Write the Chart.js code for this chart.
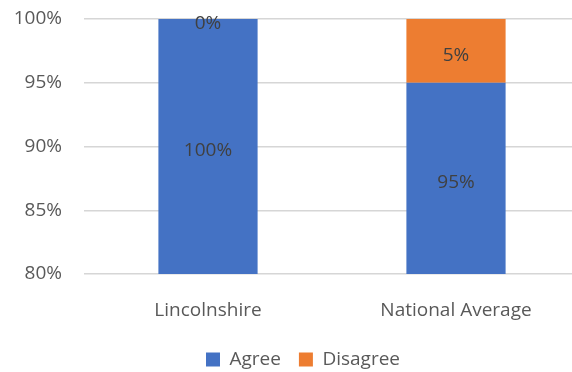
<!DOCTYPE html>
<html>
<head>
<meta charset="utf-8">
<script src="https://cdn.jsdelivr.net/npm/chart.js@4"></script>
<style>
  html, body { margin: 0; padding: 0; background: #fff; overflow: hidden; }
  #wrap { width: 580px; height: 372px; }
</style>
</head>
<body>
<div id="wrap"><canvas id="survey"></canvas></div>
<script>
const regions = ["Lincolnshire", "National Average"];
const agree = [100, 95];
const disagree = [0, 5];
const yTicks = [80, 85, 90, 95, 100];

const fontFamily = "'Open Sans', sans-serif";

// write each segment's value in the middle of the part that is visible
const barLabels = {
  id: "barLabels",
  afterDatasetsDraw(chart) {
    const ctx = chart.ctx;
    const area = chart.chartArea;
    ctx.save();
    ctx.font = "19px " + fontFamily;
    ctx.fillStyle = "#404040";
    ctx.textAlign = "center";
    ctx.textBaseline = "middle";
    chart.data.datasets.forEach((ds, i) => {
      chart.getDatasetMeta(i).data.forEach((bar, j) => {
        let top = Math.max(Math.min(bar.y, bar.base), area.top);
        let bottom = Math.min(Math.max(bar.y, bar.base), area.bottom);
        ctx.fillText(ds.data[j] + "%", bar.x, (top + bottom) / 2 + 4.5);
      });
    });
    ctx.restore();
  },
};

// nudge the legend row a little to the right of the canvas centre
const legendShift = {
  id: "legendShift",
  afterLayout(chart) {
    chart.legend.left += 13;
    chart.legend.right += 13;
  },
};

new Chart(document.getElementById("survey"), {
  type: "bar",
  data: {
    labels: regions,
    datasets: [
      {
        label: "Agree",
        data: agree,
        backgroundColor: "#4472C4",
        barPercentage: 0.4,
        categoryPercentage: 1,
      },
      {
        label: "Disagree",
        data: disagree,
        backgroundColor: "#ED7D31",
        barPercentage: 0.4,
        categoryPercentage: 1,
      },
    ],
  },
  options: {
    responsive: true,
    maintainAspectRatio: false,
    animation: false,
    layout: { padding: { top: 19, left: 0, right: 0, bottom: -7 } },
    scales: {
      x: {
        stacked: true,
        grid: { display: false },
        border: { display: false },
        ticks: {
          color: "#595959",
          font: { family: fontFamily, size: 19 },
          padding: 17,
        },
        afterFit: (scale) => { scale.height = 58; },
      },
      y: {
        stacked: true,
        min: 80,
        max: 100,
        afterBuildTicks: (scale) => {
          scale.ticks = yTicks.map((v) => ({ value: v }));
        },
        grid: {
          color: "#d6d6d6",
          lineWidth: 1.5,
          drawTicks: true,
          tickLength: 22,
          tickColor: "rgba(0,0,0,0)",
        },
        border: { display: false },
        ticks: {
          color: "#595959",
          font: { family: fontFamily, size: 19 },
          padding: 0,
          callback: (v) => v + "%",
        },
        afterFit: (scale) => { scale.width = 84; },
      },
    },
    plugins: {
      legend: {
        position: "bottom",
        labels: {
          boxWidth: 14,
          boxHeight: 14,
          padding: 18,
          color: "#595959",
          font: { family: fontFamily, size: 19 },
        },
      },
      tooltip: { enabled: false },
    },
  },
  plugins: [barLabels, legendShift],
});
</script>
</body>
</html>
